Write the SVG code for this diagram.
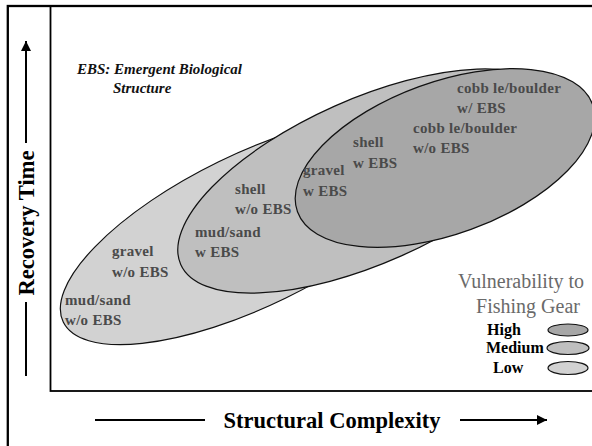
<svg xmlns="http://www.w3.org/2000/svg" width="592" height="446" viewBox="0 0 592 446">
  <style>
    .frame { fill: none; stroke: #000; }
    .ax { stroke: #000; stroke-width: 2; fill: none; }
    .axt { font-family: "Liberation Serif", "Times New Roman", serif; font-weight: bold; font-size: 22.5px; fill: #000; }
    .zone { stroke: #111; stroke-width: 1.2; }
    .low { fill: #d2d2d2; }
    .med { fill: #bfbfbf; }
    .high { fill: #a7a7a7; }
    .lbl { font-family: "Liberation Serif", "Times New Roman", serif; font-weight: bold; font-size: 15px; fill: #4a4a4a; letter-spacing: 0.3px; }
    .note { font-family: "Liberation Serif", "Times New Roman", serif; font-weight: bold; font-style: italic; font-size: 15px; fill: #111; }
    .legt { font-family: "Liberation Serif", "Times New Roman", serif; font-size: 20px; fill: #6a6a6a; }
    .legl { font-family: "Liberation Serif", "Times New Roman", serif; font-weight: bold; font-size: 16px; fill: #000; }
  </style>
  <defs>
    <marker id="ah" viewBox="0 0 10 10" refX="10" refY="5" markerWidth="5" markerHeight="5" orient="auto">
      <path d="M0,0 L10,5 L0,10 z" fill="#000"/>
    </marker>
  </defs>
  <rect width="592" height="446" fill="#fff"/>
  <g id="frame">
    <rect class="frame" x="7.8" y="6" width="600" height="460" stroke-width="2.3"/>
    <rect class="frame" x="50.5" y="6" width="560" height="385" stroke-width="1.8"/>
  </g>
  <g id="zones">
    <g id="zone-low"><ellipse class="zone low" cx="252" cy="230" rx="210" ry="76" transform="rotate(-26 252 230)"/></g>
    <g id="zone-medium"><ellipse class="zone med" cx="368" cy="181" rx="205" ry="82" transform="rotate(-24 368 181)"/></g>
    <g id="zone-high"><ellipse class="zone high" cx="445" cy="158" rx="157" ry="76" transform="rotate(-20 445 158)"/></g>
  </g>
  <g id="connectors">
    <line class="ax" x1="26" y1="376" x2="26" y2="302"/>
    <line class="ax" x1="26" y1="143" x2="26" y2="41" marker-end="url(#ah)"/>
    <line class="ax" x1="95" y1="420" x2="205" y2="420"/>
    <line class="ax" x1="460" y1="420" x2="547" y2="420" marker-end="url(#ah)"/>
  </g>
  <g id="axis-y"><text class="axt" x="0" y="0" text-anchor="middle" transform="translate(34 223) rotate(-90)">Recovery Time</text></g>
  <g id="axis-x"><text class="axt" x="332" y="428" text-anchor="middle">Structural Complexity</text></g>
  <g id="note">
    <text class="note" x="77" y="74">EBS: Emergent Biological</text>
    <text class="note" x="113" y="93">Structure</text>
  </g>
  <g id="labels">
    <g id="l-mud-wo"><text class="lbl" x="65" y="305">mud/sand</text><text class="lbl" x="65" y="325">w/o EBS</text></g>
    <g id="l-gravel-wo"><text class="lbl" x="112" y="256">gravel</text><text class="lbl" x="112" y="277">w/o EBS</text></g>
    <g id="l-mud-w"><text class="lbl" x="195" y="237">mud/sand</text><text class="lbl" x="195" y="257">w EBS</text></g>
    <g id="l-shell-wo"><text class="lbl" x="235" y="194">shell</text><text class="lbl" x="235" y="214">w/o EBS</text></g>
    <g id="l-gravel-w"><text class="lbl" x="303" y="175">gravel</text><text class="lbl" x="303" y="196">w EBS</text></g>
    <g id="l-shell-w"><text class="lbl" x="353" y="147">shell</text><text class="lbl" x="353" y="168">w EBS</text></g>
    <g id="l-cobble-wo"><text class="lbl" x="413" y="133">cobb le/boulder</text><text class="lbl" x="413" y="153">w/o EBS</text></g>
    <g id="l-cobble-w"><text class="lbl" x="457" y="93">cobb le/boulder</text><text class="lbl" x="457" y="113">w/ EBS</text></g>
  </g>
  <g id="legend">
    <text class="legt" x="521" y="288" text-anchor="middle">Vulnerability to</text>
    <text class="legt" x="528" y="313" text-anchor="middle">Fishing Gear</text>
    <text class="legl" x="487" y="335">High</text>
    <text class="legl" x="486" y="353">Medium</text>
    <text class="legl" x="493" y="373">Low</text>
    <ellipse class="zone high" cx="568" cy="330" rx="20" ry="6"/>
    <ellipse class="zone med" cx="568" cy="348" rx="21" ry="6.5"/>
    <ellipse class="zone low" cx="568" cy="368" rx="20" ry="6.5"/>
  </g>
</svg>
